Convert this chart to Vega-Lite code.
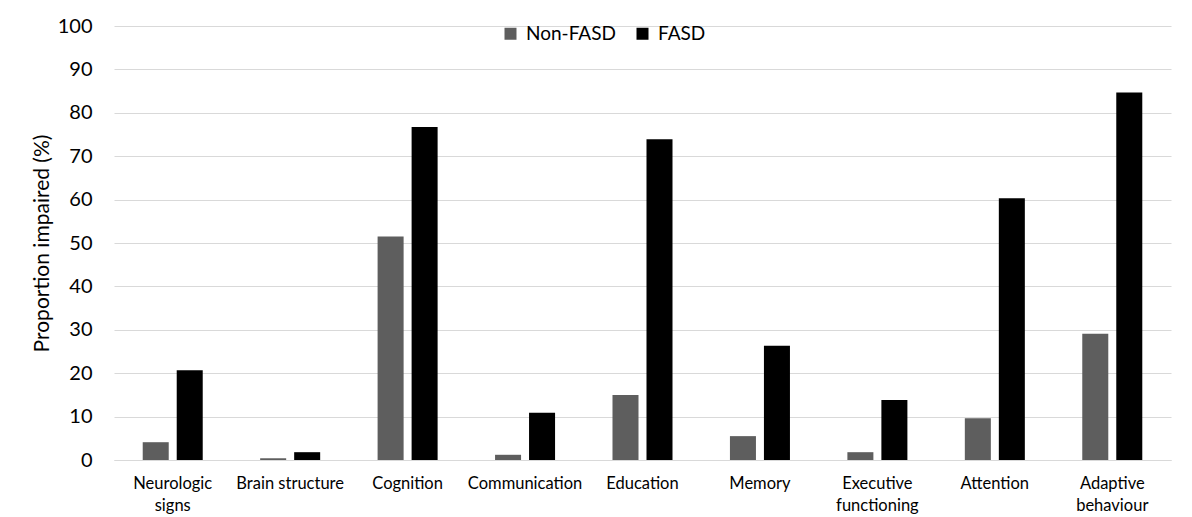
{
  "$schema": "https://vega.github.io/schema/vega-lite/v6.json",
  "autosize": "none",
  "width": 1057,
  "height": 434,
  "padding": {"left": 114, "top": 26, "right": 21, "bottom": 57},
  "background": "white",
  "config": {
    "view": {"stroke": null},
    "font": "Lato"
  },
  "data": {
    "values": [
      {"domain": "Neurologic signs", "group": "Non-FASD", "value": 4.1},
      {"domain": "Neurologic signs", "group": "FASD", "value": 20.7},
      {"domain": "Brain structure", "group": "Non-FASD", "value": 0.4},
      {"domain": "Brain structure", "group": "FASD", "value": 1.8},
      {"domain": "Cognition", "group": "Non-FASD", "value": 51.5},
      {"domain": "Cognition", "group": "FASD", "value": 76.7},
      {"domain": "Communication", "group": "Non-FASD", "value": 1.2},
      {"domain": "Communication", "group": "FASD", "value": 10.9},
      {"domain": "Education", "group": "Non-FASD", "value": 15.0},
      {"domain": "Education", "group": "FASD", "value": 73.9},
      {"domain": "Memory", "group": "Non-FASD", "value": 5.5},
      {"domain": "Memory", "group": "FASD", "value": 26.3},
      {"domain": "Executive functioning", "group": "Non-FASD", "value": 1.8},
      {"domain": "Executive functioning", "group": "FASD", "value": 13.8},
      {"domain": "Attention", "group": "Non-FASD", "value": 9.6},
      {"domain": "Attention", "group": "FASD", "value": 60.3},
      {"domain": "Adaptive behaviour", "group": "Non-FASD", "value": 29.1},
      {"domain": "Adaptive behaviour", "group": "FASD", "value": 84.7}
    ]
  },
  "mark": {"type": "bar"},
  "encoding": {
    "x": {
      "field": "domain",
      "type": "nominal",
      "sort": null,
      "scale": {"paddingInner": 0.489, "paddingOuter": 0.2445},
      "axis": {
        "title": null,
        "labelAngle": 0,
        "ticks": false,
        "domain": true,
        "domainColor": "#d9d9d9",
        "labelFontSize": 16.5,
        "labelColor": "#000000",
        "labelPadding": 15,
        "labelLineHeight": 22,
        "labelExpr": "datum.label == 'Neurologic signs' ? ['Neurologic','signs'] : datum.label == 'Executive functioning' ? ['Executive','functioning'] : datum.label == 'Adaptive behaviour' ? ['Adaptive','behaviour'] : datum.label"
      }
    },
    "xOffset": {
      "field": "group",
      "type": "nominal",
      "sort": ["Non-FASD", "FASD"],
      "scale": {"paddingInner": 0.235, "paddingOuter": 0}
    },
    "y": {
      "field": "value",
      "type": "quantitative",
      "scale": {"domain": [0, 100]},
      "axis": {
        "title": "Proportion impaired (%)",
        "titleFontSize": 21,
        "titleFontWeight": "normal",
        "titleColor": "#000000",
        "titlePadding": 5,
        "values": [0, 10, 20, 30, 40, 50, 60, 70, 80, 90, 100],
        "labelFontSize": 20,
        "labelColor": "#000000",
        "labelPadding": 22,
        "ticks": false,
        "domain": false,
        "gridColor": "#d9d9d9",
        "gridWidth": 1
      }
    },
    "color": {
      "field": "group",
      "type": "nominal",
      "scale": {"domain": ["Non-FASD", "FASD"], "range": ["#5e5e5e", "#000000"]},
      "legend": {
        "title": null,
        "orient": "none",
        "direction": "horizontal",
        "legendX": 387,
        "legendY": -2,
        "symbolType": "square",
        "symbolSize": 144,
        "symbolStrokeWidth": 0,
        "labelFontSize": 19,
        "labelColor": "#000000",
        "labelOffset": 6,
        "columnPadding": 17
      }
    }
  }
}
